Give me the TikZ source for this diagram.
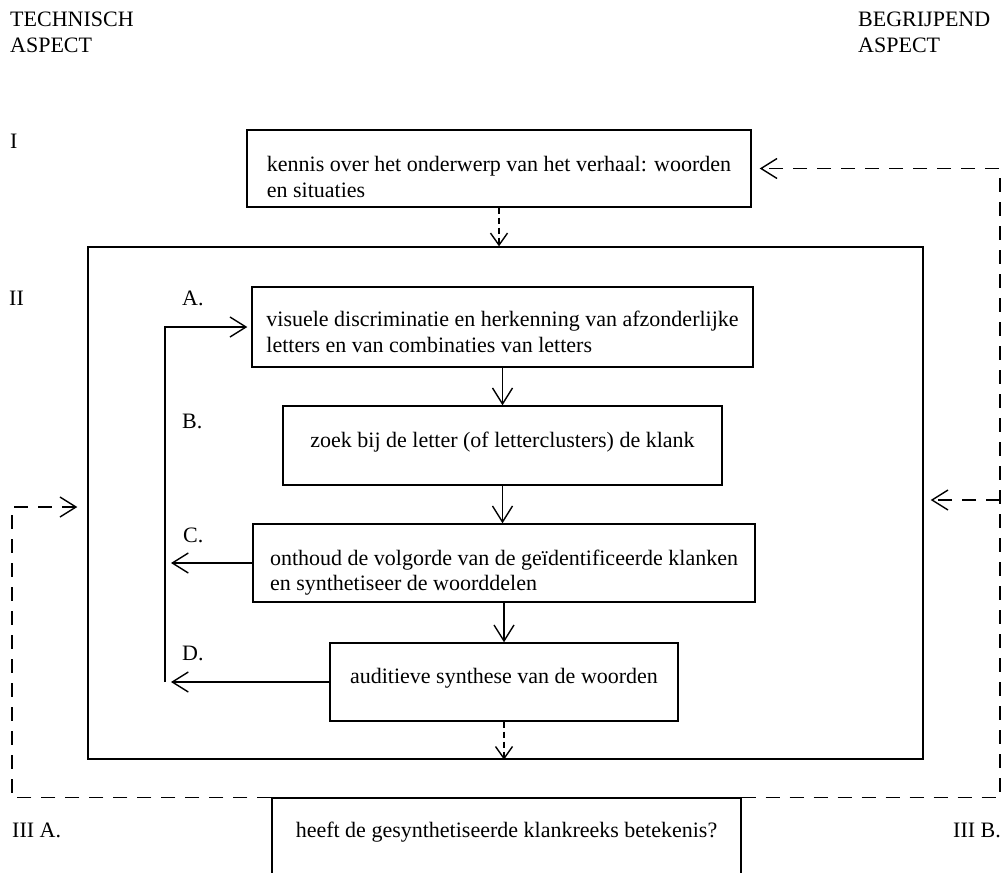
\documentclass[tikz,border=0pt]{standalone}
\usepackage{fontspec}
\setmainfont{Liberation Serif}
\usetikzlibrary{arrows.meta}
\begin{document}
\begin{tikzpicture}[x=1pt,y=-1pt,
  every node/.style={font=\fontsize{22}{25.5}\selectfont},
  box/.style={draw, line width=1.4pt, inner xsep=6pt, inner ysep=0pt, align=left},
  lbl/.style={inner sep=0pt, anchor=base west},
  hdr/.style={inner sep=0pt, anchor=north west, align=left},
  arr/.style={line width=1.4pt, -{Straight Barb[length=16pt,width=20pt,line width=1.4pt]}},
  darr/.style={arr, dash pattern=on 14pt off 10pt},
  sdarr/.style={line width=1.4pt, dash pattern=on 6pt off 4pt, -{Straight Barb[length=12pt,width=17pt,line width=1.4pt]}}
]
\useasboundingbox (0,0) rectangle (1008,872);
\clip (0,0) rectangle (1008,872);

% headers and level labels
\node[hdr] (tech) at (10,12) {TECHNISCH\\ASPECT};
\node[hdr] (begr) at (858,12) {BEGRIJPEND\\ASPECT};
\node[lbl] (lI) at (10,148) {I};
\node[lbl] (lII) at (9,305) {II};
\node[lbl] (lIIIA) at (12,837) {III A.};
\node[lbl] (lIIIB) at (953,837) {III B.};
\node[lbl] (la) at (182,305) {A.};
\node[lbl] (lb) at (182,428) {B.};
\node[lbl] (lc) at (183,542) {C.};
\node[lbl] (ld) at (182,660) {D.};

% boxes
\node[box, minimum width=504pt, minimum height=77pt] (I) at (499,168.5)
  {\rule{0pt}{32pt}kennis over het onderwerp van het verhaal: woorden\\en situaties};
\node[draw, line width=1.4pt, inner sep=0pt, minimum width=835pt, minimum height=512pt] (outer) at (505.5,503) {};
\node[box, minimum width=501pt, minimum height=80pt] (A) at (502.5,327)
  {\rule{0pt}{25.5pt}visuele discriminatie en herkenning van afzonderlijke\\letters en van combinaties van letters};
\node[box, minimum width=439pt, minimum height=79pt] (B) at (502.5,445.5)
  {\rule[-13pt]{0pt}{29pt}zoek bij de letter (of letterclusters) de klank};
\node[box, minimum width=502pt, minimum height=78pt] (C) at (504,563)
  {\rule{0pt}{35.5pt}onthoud de volgorde van de geïdentificeerde klanken\\en synthetiseer de woorddelen\rule[-6pt]{0pt}{6pt}};
\node[box, minimum width=348pt, minimum height=78pt] (D) at (504,682)
  {\rule[-14pt]{0pt}{30pt}auditieve synthese van de woorden};
\node[box, minimum width=469pt, minimum height=88pt] (III) at (506.5,842)
  {\rule[-26pt]{0pt}{42pt}heeft de gesynthetiseerde klankreeks betekenis?};

% solid flow
\draw[arr] (A.south) -- (A.south |- B.north);
\draw[arr] (B.south) -- (B.south |- C.north);
\draw[arr] (C.south) -- (C.south |- D.north);
\coordinate (loop) at (165,682);
\draw[arr, shorten >=6pt] (C.west) -- (C.west -| loop);
\draw[arr, shorten >=6pt] (D.west) -- (D.west -| loop);
\draw[arr, shorten >=4pt] (loop) |- (A.west);

% dashed flow
\draw[sdarr] (I.south) -- (I.south |- outer.north);
\draw[sdarr] (D.south) -- (D.south |- outer.south);
\coordinate (R) at (1000,168.5);
\coordinate (Rmid) at (1000,500);
\coordinate (L) at (12,507);
\draw[darr, shorten >=8pt] (III.north east) -| (R) -- (I.east);
\draw[darr, shorten >=7pt] (Rmid) -- (Rmid -| outer.east);
\draw[darr, shorten >=10pt] (III.north west) -| (L) -- (L -| outer.west);
\end{tikzpicture}
\end{document}
